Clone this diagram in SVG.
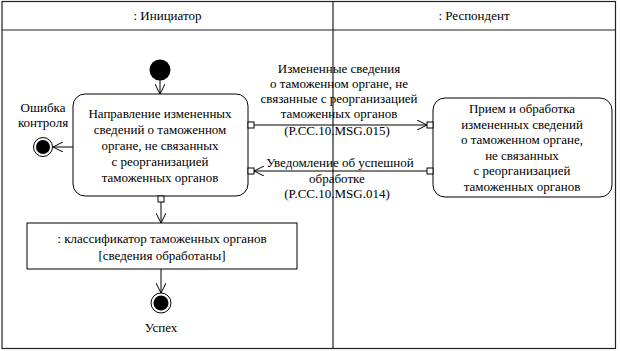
<svg xmlns="http://www.w3.org/2000/svg" width="620" height="351" viewBox="0 0 620 351">
<defs>
<style>
text{font-family:'Liberation Serif','DejaVu Serif',serif;font-size:13px;fill:#000;text-anchor:middle}
.frame{fill:none;stroke:#222;stroke-width:1.2}
.act{fill:#fff;stroke:#000;stroke-width:1}
.pin{fill:#fff;stroke:#000;stroke-width:1}
.edge{fill:none;stroke:#000;stroke-width:1}
</style>
<marker id="arr" viewBox="0 0 10 10" refX="10" refY="5" markerWidth="10" markerHeight="10" markerUnits="userSpaceOnUse" orient="auto">
<path d="M0,0 L10,5 L0,10" fill="none" stroke="#000" stroke-width="1"/>
</marker>
</defs>
<rect width="620" height="351" fill="#fff"/>
<g id="swimlanes">
<rect class="frame" x="2" y="1.5" width="613.5" height="347"/>
<line class="frame" x1="2" y1="30" x2="615.5" y2="30"/>
<line class="frame" x1="333" y1="1.5" x2="333" y2="348.5"/>
<text x="167.5" y="20">: Инициатор</text>
<text x="474" y="20">: Респондент</text>
</g>
<g id="connectors">
<line class="edge" x1="160" y1="80" x2="160" y2="94" marker-end="url(#arr)"/>
<line class="edge" x1="73" y1="147" x2="53" y2="147" marker-end="url(#arr)"/>
<line class="edge" x1="254" y1="125" x2="427" y2="125" marker-end="url(#arr)"/>
<line class="edge" x1="427" y1="171" x2="254" y2="171" marker-end="url(#arr)"/>
<line class="edge" x1="161" y1="202" x2="161" y2="223" marker-end="url(#arr)"/>
<line class="edge" x1="161" y1="269" x2="161" y2="293" marker-end="url(#arr)"/>
<g id="msg1label">
<text x="339" y="73">Измененные сведения</text>
<text x="339" y="88">о таможенном органе, не</text>
<text x="339" y="103">связанные с реорганизацией</text>
<text x="339" y="118">таможенных органов</text>
<text x="337" y="135">(P.CC.10.MSG.015)</text>
</g>
<g id="msg2label">
<text x="340" y="167">Уведомление об успешной</text>
<text x="337" y="183">обработке</text>
<text x="337" y="198">(P.CC.10.MSG.014)</text>
</g>
</g>
<g id="start">
<circle cx="160" cy="70" r="10.5" fill="#000"/>
</g>
<g id="send">
<rect class="act" x="73" y="94" width="175" height="102" rx="12" ry="12"/>
<text x="160" y="118">Направление измененных</text>
<text x="160" y="134">сведений о таможенном</text>
<text x="160" y="150">органе, не связанных</text>
<text x="160" y="166">с реорганизацией</text>
<text x="160" y="182">таможенных органов</text>
<rect class="pin" x="248" y="122" width="6" height="6"/>
<rect class="pin" x="248" y="168" width="6" height="6"/>
<rect class="pin" x="158" y="196" width="6" height="6"/>
</g>
<g id="receive">
<rect class="act" x="433" y="98" width="179" height="99" rx="12" ry="12"/>
<text x="522" y="113">Прием и обработка</text>
<text x="522" y="128.5">измененных сведений</text>
<text x="522" y="144">о таможенном органе,</text>
<text x="522" y="159.5">не связанных</text>
<text x="522" y="175">с реорганизацией</text>
<text x="522" y="190.5">таможенных органов</text>
<rect class="pin" x="427" y="122" width="6" height="6"/>
<rect class="pin" x="427" y="168" width="6" height="6"/>
</g>
<g id="error">
<circle cx="43" cy="147" r="9.5" fill="#fff" stroke="#000" stroke-width="1"/>
<circle cx="43" cy="147" r="7" fill="#000"/>
<text x="43" y="111.5">Ошибка</text>
<text x="43" y="127">контроля</text>
</g>
<g id="object">
<rect class="act" x="27" y="223" width="270" height="46"/>
<text x="162" y="242.5">: классификатор таможенных органов</text>
<text x="162" y="259.5">[сведения обработаны]</text>
</g>
<g id="success">
<circle cx="161" cy="303" r="10" fill="#fff" stroke="#000" stroke-width="1"/>
<circle cx="161" cy="303" r="7.5" fill="#000"/>
<text x="161" y="331.5">Успех</text>
</g>
</svg>
